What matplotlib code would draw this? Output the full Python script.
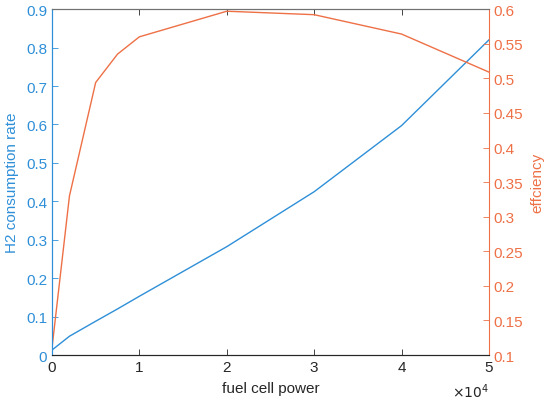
import matplotlib.pyplot as plt
from matplotlib.ticker import FuncFormatter

plt.rcParams['font.family'] = ['Liberation Sans', 'DejaVu Sans']

# fuel cell power (W)
power = [0, 2000, 5000, 7500, 10000, 20000, 30000, 40000, 50000]
# H2 consumption rate
h2_rate = [0.013, 0.049, 0.088, 0.12, 0.153, 0.282, 0.425, 0.597, 0.82]
# efficiency
efficiency = [0.11, 0.33, 0.494, 0.535, 0.56, 0.597, 0.592, 0.564, 0.509]

blue = '#2E8FD8'
orange = '#EE7046'
dark = '#262626'

fig = plt.figure(figsize=(5.5, 4.06), dpi=100)
ax = fig.add_axes([0.0945, 0.123, 0.7945, 0.852])
ax2 = ax.twinx()

ax.plot(power, h2_rate, color=blue, lw=1)
ax2.plot(power, efficiency, color=orange, lw=1)

ax.set_xlim(0, 50000)
ax.set_ylim(0, 0.9)
ax2.set_ylim(0.1, 0.6)
ax.set_xticks([0, 10000, 20000, 30000, 40000, 50000])
ax.xaxis.set_major_formatter(FuncFormatter(lambda v, p: f'{v/1e4:g}'))
ax.set_yticks([i / 10 for i in range(10)])
ax.yaxis.set_major_formatter(FuncFormatter(lambda v, p: f'{v:g}'))
ax2.set_yticks([0.1, 0.15, 0.2, 0.25, 0.3, 0.35, 0.4, 0.45, 0.5, 0.55, 0.6])
ax2.yaxis.set_major_formatter(FuncFormatter(lambda v, p: f'{v:g}'))

for a in (ax, ax2):
    a.tick_params(direction='in', length=4, width=0.6, labelsize=11)
    for s in a.spines.values():
        s.set_linewidth(0.8)
        s.set_color(dark)

ax.tick_params(axis='x', colors=dark, top=True)
ax.tick_params(axis='y', colors=blue)
ax2.tick_params(axis='y', colors=orange)
ax2.spines['left'].set_color(blue)
ax2.spines['right'].set_color(orange)
ax.spines['left'].set_color(blue)
ax.spines['right'].set_visible(False)
ax2.spines['top'].set_color('#707070')
ax.spines['top'].set_color('#707070')

ax.set_xlabel('fuel cell power', fontsize=11, color=dark, labelpad=5)
ax.set_ylabel('H2 consumption rate', fontsize=11, color=blue, labelpad=5)
ax2.set_ylabel('effciency', fontsize=11, color=orange, labelpad=5)

ax.text(1.0, -0.075, r'$\times 10^4$', transform=ax.transAxes, ha='right', va='top',
        fontsize=10, color=dark, math_fontfamily='dejavusans')

fig.savefig('out.png', dpi=100)
